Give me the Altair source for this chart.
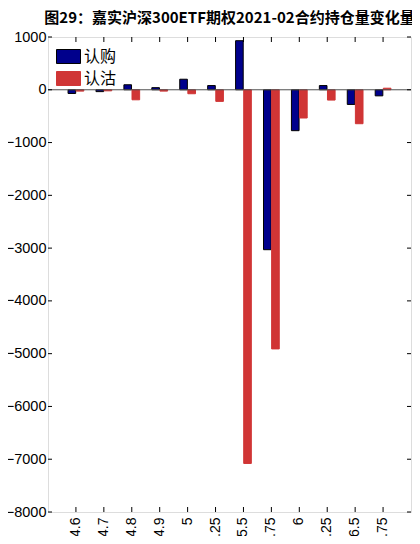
import altair as alt
import pandas as pd

strikes = ["4.6", "4.7", "4.8", "4.9", "5", "5.25", "5.5", "5.75", "6", "6.25", "6.5", "6.75"]
call_change = [-70, -35, 95, 40, 200, 80, 930, -3030, -775, 80, -278, -115]
put_change = [-25, -20, -190, -25, -75, -220, -7080, -4910, -535, -195, -643, 30]
series = ["认购", "认沽"]
colors = ["#00008C", "#D03535"]
strokes = ["#000000", "#D03535"]
y_ticks = [1000, 0, -1000, -2000, -3000, -4000, -5000, -6000, -7000, -8000]
title_text = "图29：嘉实沪深300ETF期权2021-02合约持仓量变化量"

W, H = 363, 475

rows = []
for s, c, p in zip(strikes, call_change, put_change):
    rows.append({"strike": s, "series": series[0], "value": c})
    rows.append({"strike": s, "series": series[1], "value": p})
df = pd.DataFrame(rows)
strike_df = pd.DataFrame({"strike": strikes})
ytick_df = pd.DataFrame({"v": y_ticks})
zero_df = pd.DataFrame({"v": [0]})

x_scale = alt.Scale(domain=strikes, paddingInner=0.436, paddingOuter=0.718)
y_scale = alt.Scale(domain=[-8000, 1000], nice=False, zero=False)

legend = alt.Legend(
    title=None, orient="none", legendX=8, legendY=7, padding=0,
    symbolType="M-1,-0.583H1V0.583H-1Z", symbolSize=576, symbolStrokeWidth=1,
    symbolOpacity=1, labelFont="Noto Sans CJK SC", labelFontSize=16,
    labelColor="black", labelOffset=3, rowPadding=-4,
)

bars = alt.Chart(df).mark_bar(strokeWidth=1, opacity=1).encode(
    x=alt.X("strike:N", scale=x_scale, sort=strikes,
            axis=alt.Axis(title=None, labelAngle=-90, labelAlign="right",
                          labelBaseline="middle", labelPadding=5, ticks=False,
                          tickSize=0, domain=False, labelFont="Liberation Sans",
                          labelFontSize=14, labelColor="black")),
    xOffset=alt.XOffset("series:N", sort=series,
                        scale=alt.Scale(domain=series, paddingInner=0.06, paddingOuter=0)),
    y=alt.Y("value:Q", scale=y_scale,
            axis=alt.Axis(title=None, values=y_ticks, format="d", ticks=False, tickSize=0,
                          domain=False, grid=False, labelPadding=2,
                          labelFont="Liberation Sans", labelFontSize=14.5,
                          labelColor="black")),
    color=alt.Color("series:N", scale=alt.Scale(domain=series, range=colors), legend=legend),
    stroke=alt.Stroke("series:N", scale=alt.Scale(domain=series, range=strokes), legend=legend),
)

zero_line = alt.Chart(zero_df).mark_rule(color="#505050", strokeWidth=1).encode(
    y=alt.Y("v:Q", scale=y_scale)
)

bottom_ticks = alt.Chart(strike_df).mark_rule(color="black", strokeWidth=1).encode(
    x=alt.X("strike:N", scale=x_scale, sort=strikes),
    y=alt.value(H), y2=alt.value(H - 5),
)
top_ticks = alt.Chart(strike_df).mark_rule(color="black", strokeWidth=1).encode(
    x=alt.X("strike:N", scale=x_scale, sort=strikes),
    y=alt.value(0), y2=alt.value(5),
)
left_ticks = alt.Chart(ytick_df).mark_rule(color="black", strokeWidth=1).encode(
    y=alt.Y("v:Q", scale=y_scale),
    x=alt.value(0), x2=alt.value(4),
)
right_ticks = alt.Chart(ytick_df).mark_rule(color="black", strokeWidth=1).encode(
    y=alt.Y("v:Q", scale=y_scale),
    x=alt.value(W), x2=alt.value(W - 4),
)

chart = alt.layer(bars, zero_line, bottom_ticks, top_ticks, left_ticks, right_ticks).properties(
    width=W, height=H,
    title=alt.TitleParams(title_text, font="Noto Sans CJK SC", fontSize=15,
                          fontWeight="bold", color="black", anchor="middle", offset=3),
    autosize=alt.AutoSizeParams(type="none"),
    padding={"left": 40, "top": 29, "right": 1, "bottom": 24},
).configure_view(stroke="black", strokeWidth=1).configure(background="white")

chart.save("out.html", embed_options={"renderer": "svg", "actions": False})
